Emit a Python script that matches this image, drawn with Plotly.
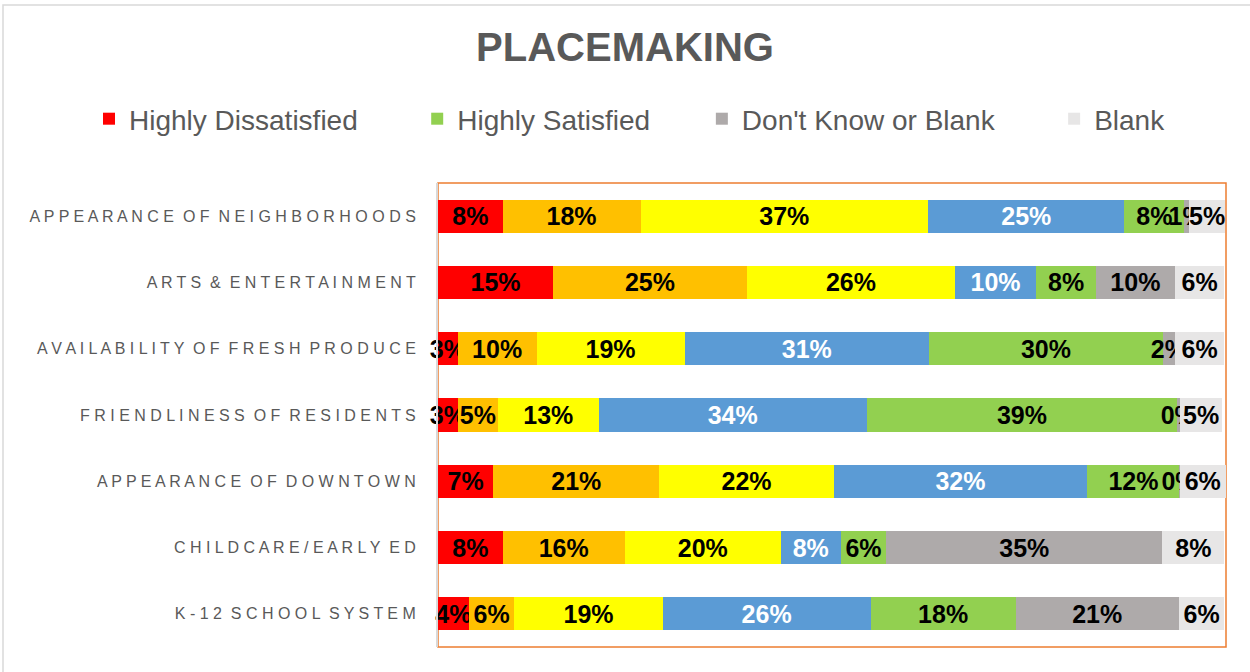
import plotly.graph_objects as go

categories = [
    "APPEARANCE OF NEIGHBORHOODS",
    "ARTS & ENTERTAINMENT",
    "AVAILABILITY OF FRESH PRODUCE",
    "FRIENDLINESS OF RESIDENTS",
    "APPEARANCE OF DOWNTOWN",
    "CHILDCARE/EARLY ED",
    "K-12 SCHOOL SYSTEM",
]

highly_dissatisfied = [8.2, 14.6, 2.5, 2.5, 7.0, 8.2, 3.9]
dissatisfied        = [17.5, 24.6, 10.0, 5.1, 21.1, 15.5, 5.8]
neutral             = [36.5, 26.4, 18.8, 12.8, 22.1, 19.8, 18.8]
satisfied           = [24.9, 10.3, 31.0, 34.0, 32.2, 7.6, 26.4]
highly_satisfied    = [7.6, 7.6, 29.7, 39.4, 11.7, 5.8, 18.4]
dont_know           = [0.6, 10.0, 1.5, 0.4, 0.05, 35.0, 20.7]
blank               = [4.6, 6.3, 6.3, 5.3, 5.8, 7.9, 5.8]

series = [
    ("Highly Dissatisfied", highly_dissatisfied, "#FF0000", "black", True),
    ("Dissatisfied", dissatisfied, "#FFC000", "black", False),
    ("Neutral", neutral, "#FFFF00", "black", False),
    ("Satisfied", satisfied, "#5B9BD5", "white", False),
    ("Highly Satisfied", highly_satisfied, "#92D050", "black", True),
    ("Don't Know or Blank", dont_know, "#AEAAAA", "black", True),
    ("Blank", blank, "#E7E6E6", "black", True),
]

NB = "\u00a0"
pad = {"Highly Dissatisfied": 7, "Highly Satisfied": 6, "Don't Know or Blank": 7, "Blank": 0}


def spaced(s):
    words = s.split(" ")
    return "  ".join(" ".join(list(w)) for w in words)


ylabels = [spaced(c) for c in categories]

fig = go.Figure()
for name, vals, color, tcolor, show in series:
    fig.add_trace(go.Bar(
        y=ylabels, x=vals, orientation="h",
        name=name + NB * pad.get(name, 0),
        marker=dict(color=color, line=dict(width=0)),
        texttemplate="%{x:.0f}%",
        textposition="inside",
        insidetextanchor="middle",
        textangle=0,
        insidetextfont=dict(family="Liberation Sans", size=25, color=tcolor, weight="bold"),
        showlegend=show,
        cliponaxis=False,
    ))

L, R, T, B = 438, 24, 183, 25
W, H = 1250, 672
PW, PH = W - L - R, H - T - B

fig.update_layout(
    barmode="stack",
    bargap=0.5,
    width=W, height=H,
    margin=dict(l=L, r=R, t=T, b=B),
    paper_bgcolor="white",
    plot_bgcolor="white",
    uniformtext=dict(minsize=25, mode="show"),
    title=dict(
        text="<b>PLACEMAKING</b>",
        font=dict(family="Liberation Sans", size=40, color="#595959"),
        x=0.5, xanchor="center", xref="container",
        y=1 - 47 / H, yanchor="middle", yref="container",
    ),
    legend=dict(
        orientation="h",
        x=(89 - L) / PW, xanchor="left", xref="paper",
        y=(H - B - 119) / PH, yanchor="middle", yref="paper",
        font=dict(family="Liberation Sans", size=28, color="#595959"),
        traceorder="normal",
    ),
    xaxis=dict(range=[0, 100], visible=False, showgrid=False, zeroline=False),
    yaxis=dict(
        autorange="reversed",
        showline=True, linecolor="#D9D9D9", linewidth=2,
        ticks="", ticklabelstandoff=17,
        tickfont=dict(family="Liberation Sans", size=16, color="#595959"),
        showgrid=False,
    ),
    shapes=[
        dict(type="rect", xref="paper", yref="paper", x0=0, x1=1, y0=0, y1=1,
             line=dict(color="#ED7D31", width=1.5), layer="below"),
        dict(type="rect", xref="paper", yref="paper",
             x0=(3 - L) / PW, x1=(1260 - L) / PW,
             y0=(H - B - 680) / PH, y1=(H - B - 5) / PH,
             line=dict(color="#D9D9D9", width=1.5), layer="below"),
    ],
)

fig.write_html("out.html", config={"displayModeBar": False},
               post_script="document.body.style.margin='0px';")
